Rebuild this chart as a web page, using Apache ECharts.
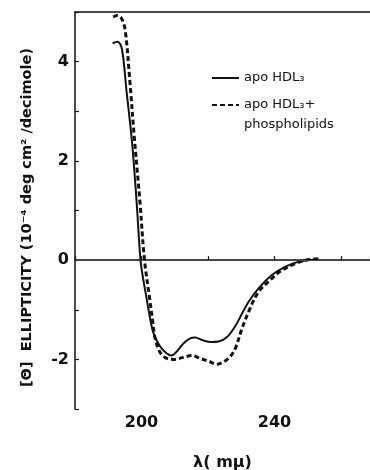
<!DOCTYPE html>
<html>
<head>
<meta charset="utf-8">
<script src="https://cdn.jsdelivr.net/npm/echarts@6/dist/echarts.min.js"></script>
<style>
html,body{margin:0;padding:0;background:#fff;}
#chart{width:370px;height:470px;}
</style>
</head>
<body>
<div id="chart"></div>
<script>
// Wavelength (mμ) and ellipticity (10^-4 deg cm^2/decimole)
const lambdaSolid = [191.3, 192.8, 194.1, 195.5, 197.1, 198.5, 199.7, 200.6, 201.6, 202.6, 203.6, 205.6, 207.6, 209.1, 210.6, 212.6, 214.5, 216.1, 218.6, 221.0, 223.2, 225.7, 228.0, 229.5, 232.2, 235.2, 239.2, 243.3, 247.3, 250.3, 252.0];
const ellipSolid  = [4.37, 4.40, 4.26, 3.40, 2.41, 1.20, 0.00, -0.42, -0.80, -1.18, -1.47, -1.74, -1.88, -1.92, -1.84, -1.68, -1.58, -1.56, -1.62, -1.65, -1.64, -1.55, -1.35, -1.17, -0.84, -0.57, -0.30, -0.13, -0.03, 0.00, 0.01];

const lambdaDashed = [191.5, 192.6, 194.0, 195.1, 196.5, 197.8, 199.5, 200.9, 202.5, 203.3, 204.1, 205.6, 207.6, 209.6, 212.6, 215.1, 217.6, 220.7, 222.5, 224.7, 226.7, 228.2, 230.2, 232.2, 235.2, 239.2, 242.3, 246.3, 249.3, 253.8];
const ellipDashed  = [4.90, 4.93, 4.87, 4.63, 3.60, 2.50, 1.20, 0.00, -0.80, -1.20, -1.58, -1.86, -1.98, -2.00, -1.96, -1.92, -1.98, -2.05, -2.10, -2.05, -1.94, -1.78, -1.38, -1.04, -0.64, -0.37, -0.20, -0.07, 0.00, 0.03];

const xTickLabels = [200, 240];
const yTickLabels = [4, 2, 0, -2];
const seriesNames = ['apo HDL₃', 'apo HDL₃+\nphospholipids'];

const pair = (xs, ys) => xs.map((x, i) => [x, ys[i]]);
const INK = '#111';
const FONT = 'DejaVu Sans';

const chart = echarts.init(document.getElementById('chart'));
chart.setOption({
  backgroundColor: '#fff',
  animation: false,
  grid: { left: 75, right: 0, top: 12, bottom: 61, outerBoundsMode: 'none' },
  legend: {
    orient: 'vertical',
    left: 211,
    top: 68,
    padding: 0,
    itemWidth: 27,
    itemHeight: 14,
    itemGap: -13,
    itemStyle: { opacity: 0 },
    textStyle: { fontFamily: FONT, fontSize: 13, color: INK, lineHeight: 20 },
    // second entry: blank first line keeps the sample aligned with "apo HDL₃+"
    formatter: name => name === seriesNames[1] ? '\n' + name : name,
    data: [{ name: seriesNames[0] }, { name: seriesNames[1] }]
  },
  xAxis: [
    {
      type: 'value', min: 180, max: 268.7, interval: 20,
      axisLine: { show: true, lineStyle: { color: INK, width: 1.5 } },
      axisTick: { show: true, inside: true, length: 4, lineStyle: { color: INK, width: 1.2 } },
      axisLabel: {
        margin: 6, fontFamily: FONT, fontWeight: 'bold', fontSize: 16, color: INK,
        formatter: v => xTickLabels.includes(v) ? String(v) : ''
      },
      splitLine: { show: false },
      name: 'λ( mμ)', nameLocation: 'middle', nameGap: 46,
      nameTextStyle: { fontFamily: FONT, fontWeight: 'bold', fontSize: 16, color: INK }
    },
    {
      type: 'value', position: 'top', min: 180, max: 268.7,
      axisLine: { show: true, lineStyle: { color: INK, width: 1.5 } },
      axisTick: { show: false }, axisLabel: { show: false }, splitLine: { show: false }
    }
  ],
  yAxis: {
    type: 'value', min: -3, max: 5, interval: 1,
    axisLine: { show: true, lineStyle: { color: INK, width: 1.5 } },
    axisTick: { show: true, inside: true, length: 4, lineStyle: { color: INK, width: 1.2 } },
    axisLabel: {
      margin: 6, fontFamily: FONT, fontWeight: 'bold', fontSize: 16, color: INK,
      formatter: v => yTickLabels.includes(v) ? String(v) : ''
    },
    splitLine: { show: false },
    name: '[Θ]  ELLIPTICITY (10⁻⁴ deg cm² /decimole)',
    nameLocation: 'middle', nameRotate: 90, nameGap: 40,
    nameTextStyle: { fontFamily: FONT, fontWeight: 'bold', fontSize: 14.5, color: INK, padding: [0, 14, 0, 0] }
  },
  series: [
    {
      name: seriesNames[0], type: 'line', xAxisIndex: 0,
      data: pair(lambdaSolid, ellipSolid),
      smooth: 0.35, symbol: 'none', showSymbol: false,
      lineStyle: { color: INK, width: 2 }, itemStyle: { color: INK },
      markLine: {
        silent: true, symbol: 'none', label: { show: false },
        lineStyle: { color: '#444', width: 1, type: 'solid' },
        data: [{ yAxis: 0 }]
      }
    },
    {
      name: seriesNames[1], type: 'line', xAxisIndex: 0,
      data: pair(lambdaDashed, ellipDashed),
      smooth: 0.35, symbol: 'none', showSymbol: false,
      lineStyle: { color: INK, width: 3, type: [5, 3] }, itemStyle: { color: INK }
    }
  ]
});
</script>
</body>
</html>
